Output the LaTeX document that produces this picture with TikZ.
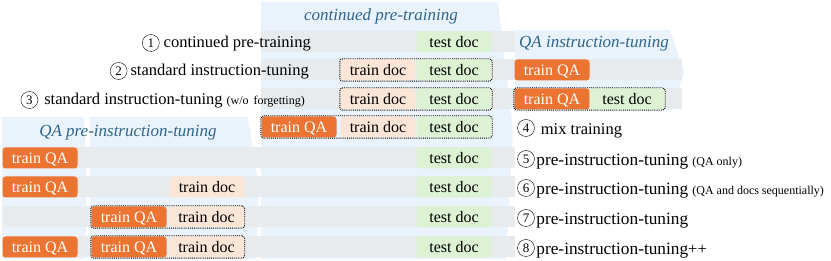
\documentclass[tikz,border=0pt]{standalone}
\usepackage{fontspec}
\setmainfont{Liberation Serif}
\usepackage{tikz}
\usetikzlibrary{positioning, fit}
\usepackage{xcolor}
\definecolor{qaorange}{RGB}{235,116,51}
\definecolor{docpeach}{RGB}{251,229,214}
\definecolor{testgreen}{RGB}{220,242,210}
\definecolor{phaseblue}{RGB}{234,242,251}
\definecolor{rowgrey}{RGB}{232,235,238}
\definecolor{titleblue}{RGB}{47,102,140}
\newcommand{\pitlabel}{{\fontsize{17.3}{19}\selectfont pre-instruction-tuning}}
\newcommand{\smallnote}[1]{{\fontsize{12}{13}\selectfont #1}}

\begin{document}
\begin{tikzpicture}[x=1pt, y=-1pt,
        cell/.style={minimum width=75pt, minimum height=21pt, inner sep=0pt,
            rounded corners=3pt, text height=11pt, text depth=0pt,
            font=\fontsize{16}{18}\selectfont},
        trainqa/.style={cell, fill=qaorange, text=white},
        traindoc/.style={cell, fill=docpeach},
        testdoc/.style={cell, fill=testgreen},
        grp/.style={draw=black, densely dotted, line width=0.9pt, rounded corners=3pt, inner sep=0.5pt},
        cnum/.style={circle, draw, thin, minimum size=17pt, inner sep=0pt,
            font=\fontsize{13}{13}\selectfont},
        lbl/.style={inner sep=0pt, text height=11pt, text depth=0pt,
            font=\fontsize{16.5}{18}\selectfont},
        phase/.style={inner sep=0pt, text height=11pt, text depth=0pt,
            font=\fontsize{17}{18}\selectfont\itshape, text=titleblue}]
        \useasboundingbox (0,0) rectangle (831,261);

        % --- Phases (fonds bleus) ---
        \fill[phaseblue] (261,2) -- (498,2) -- (513,130) -- (506,259) -- (261,259) -- cycle;
        \fill[phaseblue] (515,30) -- (670,30) -- (684,72) -- (672,110) -- (515,110) -- cycle;
        \fill[phaseblue] (2,117) -- (84,117) -- (87,188) -- (85,259) -- (2,259) -- cycle;
        \fill[phaseblue] (90,117) -- (248,117) -- (259,188) -- (256,259) -- (90,259) -- cycle;

        % --- Bandes des lignes ---
        \fill[rowgrey] (261,31.5) rectangle (515,52.5);
        \foreach \y in {70,99}
            \fill[rowgrey] (261,\y-10.5) rectangle (682,\y+10.5);
        \foreach \y in {158,187,217,247}
            \fill[rowgrey] (3,\y-10.5) rectangle (515,\y+10.5);

        % --- Titres des phases ---
        \node[phase] (ttlcpt) at (381,15) {continued pre-training};
        \node[phase] (ttlqait) at (594,42) {QA instruction-tuning};
        \node[phase] (ttlprei) at (128,131) {QA pre-instruction-tuning};

        % --- 1 : continued pre-training ---
        \node[testdoc] (test1) at (454,42) {test doc};
        \node[lbl, anchor=east] (lbl1) at (311,42) {continued pre-training};
        \node[cnum, left=4pt of lbl1.west, yshift=-1pt] (num1) {1};

        % --- 2 : standard instruction-tuning ---
        \node[traindoc] (doc2) at (378,70) {train doc};
        \node[testdoc] (test2) at (454,70) {test doc};
        \node[grp, fit=(doc2)(test2)] (grp2) {};
        \node[trainqa] (qa2) at (552,70) {train QA};
        \node[lbl, anchor=east] (lbl2) at (309,70) {standard instruction-tuning};
        \node[cnum, left=3pt of lbl2.west, yshift=-1pt] (num2) {2};

        % --- 3 : w/o forgetting ---
        \node[traindoc] (doc3) at (378,99) {train doc};
        \node[testdoc] (test3) at (454,99) {test doc};
        \node[grp, fit=(doc3)(test3)] (grp3a) {};
        \node[trainqa] (qa3) at (552,99) {train QA};
        \node[testdoc] (test3b) at (627,99) {test doc};
        \node[grp, fit=(qa3)(test3b)] (grp3b) {};
        \node[lbl, anchor=east] (lbl3) at (305,99)
            {standard instruction-tuning \smallnote{(w/o\hspace{2pt} forgetting)}};
        \node[cnum, left=6pt of lbl3.west, yshift=-1pt] (num3) {3};

        % --- 4 : mix training ---
        \node[trainqa] (qa4) at (299,127) {train QA};
        \node[traindoc] (doc4) at (378,127) {train doc};
        \node[testdoc] (test4) at (454,127) {test doc};
        \node[grp, fit=(qa4)(test4)] (grp4) {};
        \node[cnum] (num4) at (526,128) {4};
        \node[lbl, right=6pt of num4.east, yshift=-1pt] (lbl4) {mix training};

        % --- 5 a 8 : pre-instruction-tuning ---
        \node[trainqa] (qa5) at (40,158) {train QA};
        \node[testdoc] (test5) at (454,158) {test doc};
        \node[cnum] (num5) at (526,159) {5};
        \node[lbl, right=1.5pt of num5.east, yshift=-1pt] (lbl5)
            {\pitlabel\ \smallnote{(QA only)}};

        \node[trainqa] (qa6) at (40,187) {train QA};
        \node[traindoc] (doc6) at (207,187) {train doc};
        \node[testdoc] (test6) at (454,187) {test doc};
        \node[cnum] (num6) at (526,188) {6};
        \node[lbl, right=1.5pt of num6.east, yshift=-1pt] (lbl6)
            {\pitlabel\ \smallnote{(QA and docs sequentially)}};

        \node[trainqa] (qa7) at (129,217) {train QA};
        \node[traindoc] (doc7) at (206.5,217) {train doc};
        \node[grp, fit=(qa7)(doc7)] (grp7) {};
        \node[testdoc] (test7) at (454,217) {test doc};
        \node[cnum] (num7) at (526,218) {7};
        \node[lbl, right=1.5pt of num7.east, yshift=-1pt] (lbl7) {\pitlabel};

        \node[trainqa] (qa8a) at (40,247) {train QA};
        \node[trainqa] (qa8b) at (129,247) {train QA};
        \node[traindoc] (doc8) at (206.5,247) {train doc};
        \node[grp, fit=(qa8b)(doc8)] (grp8) {};
        \node[testdoc] (test8) at (454,247) {test doc};
        \node[cnum] (num8) at (526,248) {8};
        \node[lbl, right=1.5pt of num8.east, yshift=-1pt] (lbl8) {\pitlabel++};
    \end{tikzpicture}
\end{document}
